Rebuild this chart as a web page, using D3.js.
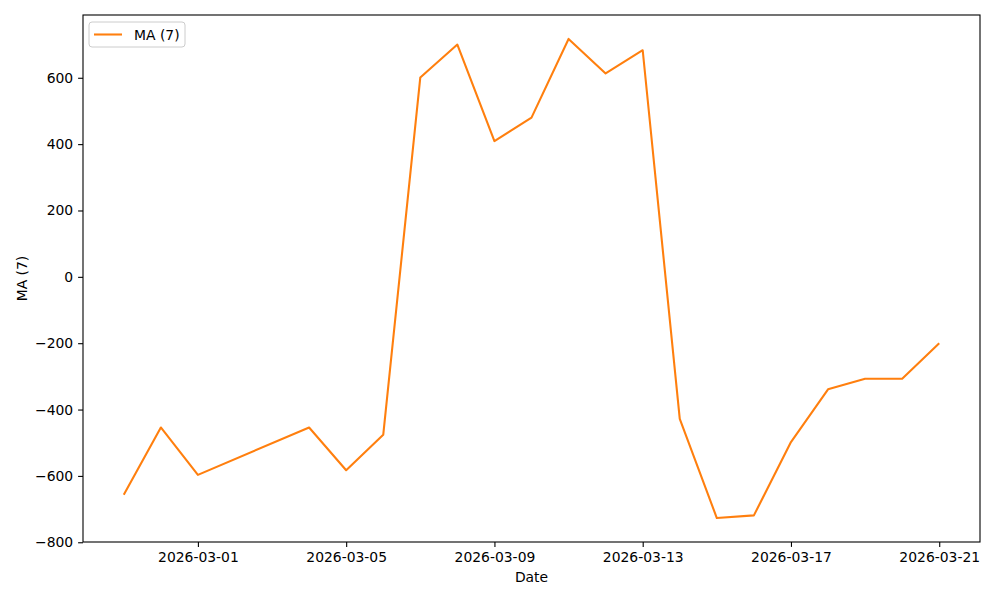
<!DOCTYPE html>
<html>
<head>
<meta charset="utf-8">
<script src="https://cdn.jsdelivr.net/npm/d3@7"></script>
<style>
  body { margin: 0; background: #fff; }
  text { font-family: "DejaVu Sans", sans-serif; }
</style>
</head>
<body>
<svg id="chart" width="1000" height="600"></svg>
<script>
// data
var dates = ["2026-02-27", "2026-02-28", "2026-03-01", "2026-03-04", "2026-03-05", "2026-03-06",
  "2026-03-07", "2026-03-08", "2026-03-09", "2026-03-10", "2026-03-11", "2026-03-12", "2026-03-13",
  "2026-03-14", "2026-03-15", "2026-03-16", "2026-03-17", "2026-03-18", "2026-03-19", "2026-03-20", "2026-03-21"]
var maValues = [-657, -454, -597, -454, -583, -476,
  601, 700, 409, 480, 717, 613, 683,
  -428, -727, -719, -498, -339, -307, -307, -200]
var xTickLabels = ["2026-03-01", "2026-03-05", "2026-03-09", "2026-03-13", "2026-03-17", "2026-03-21"]
var yTickValues = [-800, -600, -400, -200, 0, 200, 400, 600]
var seriesName = "MA (7)"

var parse = d3.utcParse("%Y-%m-%d")
var fmt = d3.utcFormat("%Y-%m-%d")

var data = dates.map(function (d, i) { return { date: parse(d), value: maValues[i] } })

var margin = { left: 83, right: 20, top: 15, bottom: 58 }
var width = 1000, height = 600

var svg = d3.select("#chart")

// matplotlib-like 5% padding on both axes
var xExt = d3.extent(data, d => d.date.getTime())
var xPad = (xExt[1] - xExt[0]) * 0.05
var x = d3.scaleUtc()
  .domain([new Date(xExt[0] - xPad), new Date(xExt[1] + xPad)])
  .range([margin.left, width - margin.right])

var yExt = d3.extent(data, d => d.value)
var yPad = (yExt[1] - yExt[0]) * 0.05
var y = d3.scaleLinear()
  .domain([yExt[0] - yPad, yExt[1] + yPad])
  .range([height - margin.bottom, margin.top])

var fontSize = "13.9px"

// x axis
var xAxis = svg.append("g")
  .attr("transform", "translate(0," + (height - margin.bottom) + ")")
  .call(d3.axisBottom(x)
    .tickValues(xTickLabels.map(parse))
    .tickFormat(fmt)
    .tickSize(4.9)
    .tickPadding(4.9))
xAxis.select(".domain").remove()
xAxis.selectAll("text").style("font-size", fontSize).attr("fill", "#000")
xAxis.selectAll("line").attr("stroke", "#000").attr("stroke-width", 1.1)

// y axis
var yAxis = svg.append("g")
  .attr("transform", "translate(" + margin.left + ",0)")
  .call(d3.axisLeft(y)
    .tickValues(yTickValues)
    .tickFormat(d => d < 0 ? "\u2212" + Math.abs(d) : d)
    .tickSize(4.9)
    .tickPadding(4.9))
yAxis.select(".domain").remove()
yAxis.selectAll("text").style("font-size", fontSize).attr("fill", "#000")
yAxis.selectAll("line").attr("stroke", "#000").attr("stroke-width", 1.1)

// the line
var line = d3.line()
  .x(d => x(d.date))
  .y(d => y(d.value))

svg.append("path")
  .datum(data)
  .attr("fill", "none")
  .attr("stroke", "#ff7f0e")
  .attr("stroke-width", 2.08)
  .attr("stroke-linejoin", "round")
  .attr("d", line)

// frame
svg.append("rect")
  .attr("x", margin.left)
  .attr("y", margin.top)
  .attr("width", width - margin.left - margin.right)
  .attr("height", height - margin.top - margin.bottom)
  .attr("fill", "none")
  .attr("stroke", "#000")
  .attr("stroke-width", 1.1)

// axis labels
svg.append("text")
  .attr("x", (margin.left + width - margin.right) / 2)
  .attr("y", 582)
  .attr("text-anchor", "middle")
  .style("font-size", fontSize)
  .text("Date")

svg.append("text")
  .attr("transform", "translate(27," + ((margin.top + height - margin.bottom) / 2) + ") rotate(-90)")
  .attr("text-anchor", "middle")
  .style("font-size", fontSize)
  .text(seriesName)

// legend
var legend = svg.append("g").attr("transform", "translate(89,22)")
legend.append("rect")
  .attr("width", 96)
  .attr("height", 25)
  .attr("rx", 3)
  .attr("fill", "#fff")
  .attr("fill-opacity", 0.8)
  .attr("stroke", "#cccccc")
  .attr("stroke-width", 1)
legend.append("line")
  .attr("x1", 5).attr("x2", 33)
  .attr("y1", 12.5).attr("y2", 12.5)
  .attr("stroke", "#ff7f0e")
  .attr("stroke-width", 2.08)
legend.append("text")
  .attr("x", 45)
  .attr("y", 17.5)
  .style("font-size", fontSize)
  .text(seriesName)
</script>
</body>
</html>
